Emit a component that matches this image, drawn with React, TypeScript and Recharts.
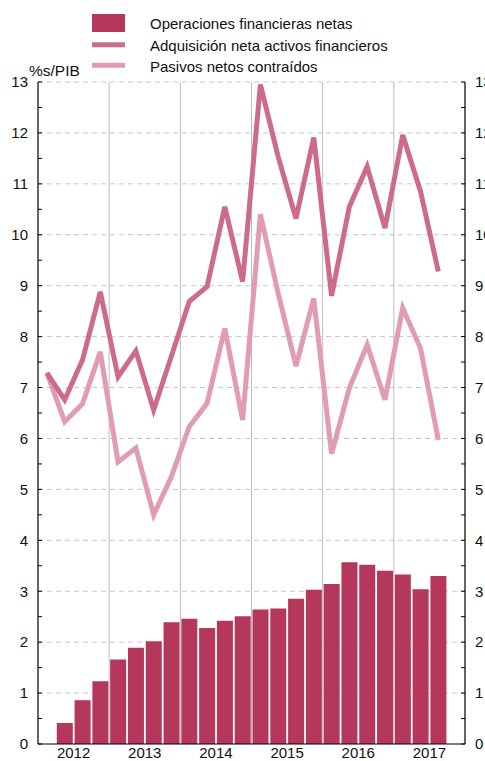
import React from 'react';
import { ComposedChart, Bar, Line, XAxis, YAxis, CartesianGrid } from 'recharts';

const quarters = [
  '2012T1', '2012T2', '2012T3', '2012T4',
  '2013T1', '2013T2', '2013T3', '2013T4',
  '2014T1', '2014T2', '2014T3', '2014T4',
  '2015T1', '2015T2', '2015T3', '2015T4',
  '2016T1', '2016T2', '2016T3', '2016T4',
  '2017T1', '2017T2', '2017T3', '2017T4',
];

const operaciones = [
  null, 0.41, 0.86, 1.23,
  1.66, 1.89, 2.02, 2.39,
  2.46, 2.28, 2.42, 2.51,
  2.64, 2.66, 2.85, 3.03,
  3.14, 3.57, 3.52, 3.40,
  3.33, 3.04, 3.30, null,
];

const adquisicion = [
  7.29, 6.76, 7.54, 8.88,
  7.21, 7.72, 6.56, 7.62,
  8.69, 8.98, 10.55, 9.08,
  12.95, 11.53, 10.32, 11.91,
  8.8, 10.55, 11.34, 10.13,
  11.96, 10.85, 9.28, null,
];

const pasivos = [
  7.29, 6.33, 6.68, 7.70,
  5.54, 5.81, 4.50, 5.25,
  6.23, 6.69, 8.16, 6.36,
  10.4, 8.85, 7.42, 8.75,
  5.7, 6.99, 7.84, 6.76,
  8.56, 7.77, 5.97, null,
];

const years = ['2012', '2013', '2014', '2015', '2016', '2017'];
const yLabels = [0, 1, 2, 3, 4, 5, 6, 7, 8, 9, 10, 11, 12, 13];

const seriesNames = {
  operaciones: 'Operaciones financieras netas',
  adquisicion: 'Adquisición neta activos financieros',
  pasivos: 'Pasivos netos contraídos',
};

const COLORS = {
  operaciones: '#b5375c',
  adquisicion: '#cc6b8b',
  pasivos: '#e19cb2',
};

const FONT = '"Liberation Sans", Arial, Helvetica, sans-serif';

const data = quarters.map((q, i) => ({
  q,
  pos: i + 0.5,
  operaciones: operaciones[i],
  adquisicion: adquisicion[i],
  pasivos: pasivos[i],
}));

const yTicks: number[] = [];
yLabels.forEach((v, i) => {
  yTicks.push(v);
  if (i < yLabels.length - 1) yTicks.push(v + 0.5);
});

const yearTicks = years.map((_, i) => i * 4 + 2);
const yearBounds = years.slice(1).map((_, i) => (i + 1) * 4);

const yFmt = (v: number) => (Number.isInteger(v) ? String(v) : '');
const xFmt = (v: number) => years[yearTicks.indexOf(v)] ?? '';

const tickStyle = { fontSize: 15, fontFamily: FONT, fill: '#111' };

const Legend = () => (
  <svg width={485} height={80} style={{ position: 'absolute', left: 0, top: 0 }}>
    <rect x={92} y={14} width={33} height={18} fill={COLORS.operaciones} />
    <line x1={92} x2={125} y1={44.7} y2={44.7} stroke={COLORS.adquisicion} strokeWidth={5} />
    <line x1={92} x2={125} y1={65.3} y2={65.3} stroke={COLORS.pasivos} strokeWidth={5} />
    <text x={150} y={29} fontSize={15} fontFamily={FONT} fill="#111">{seriesNames.operaciones}</text>
    <text x={150} y={50.5} fontSize={15} fontFamily={FONT} fill="#111">{seriesNames.adquisicion}</text>
    <text x={150} y={71.5} fontSize={15} fontFamily={FONT} fill="#111">{seriesNames.pasivos}</text>
    <text x={29} y={76} fontSize={15.5} fontFamily={FONT} fill="#111">%s/PIB</text>
  </svg>
);

export default function App() {
  return (
    <div style={{ position: 'absolute', left: 0, top: 0, width: 485, height: 761, background: '#fff' }}>
      <ComposedChart
        width={485}
        height={761}
        data={data}
        margin={{ top: 82, right: 0, bottom: 0, left: 0 }}
        barCategoryGap={1}
      >
        <CartesianGrid
          xAxisId="yr"
          yAxisId="left"
          vertical={false}
          horizontalValues={yLabels.slice(1)}
          strokeDasharray="5 4"
          stroke="#c8c8c8"
        />
        <CartesianGrid
          xAxisId="yr"
          yAxisId="left"
          horizontal={false}
          verticalValues={yearBounds}
          stroke="#bdbdbd"
        />
        <XAxis
          xAxisId="yr"
          dataKey="pos"
          type="number"
          domain={[0, 24]}
          ticks={yearTicks}
          allowDataOverflow
          height={17}
          tickSize={0}
          tickMargin={3}
          tickLine={false}
          axisLine={{ stroke: '#000', strokeWidth: 1.2 }}
          tick={tickStyle}
          tickFormatter={xFmt}
          interval={0}
        />
        <XAxis xAxisId="cat" dataKey="q" hide height={0} />
        <YAxis
          yAxisId="left"
          orientation="left"
          width={38}
          domain={[0, 13]}
          ticks={yTicks}
          interval={0}
          tickSize={-4}
          tickMargin={14}
          tickLine={{ stroke: '#000' }}
          axisLine={{ stroke: '#000', strokeWidth: 1.2 }}
          tick={tickStyle}
          tickFormatter={yFmt}
        />
        <YAxis
          yAxisId="right"
          orientation="right"
          dataKey="adquisicion"
          width={20}
          domain={[0, 13]}
          allowDataOverflow
          ticks={yTicks}
          interval={0}
          tickSize={-4}
          tickMargin={14}
          tickLine={{ stroke: '#000' }}
          axisLine={{ stroke: '#000', strokeWidth: 1.2 }}
          tick={tickStyle}
          tickFormatter={yFmt}
        />
        <Bar
          xAxisId="cat"
          yAxisId="left"
          dataKey="operaciones"
          name={seriesNames.operaciones}
          fill={COLORS.operaciones}
          isAnimationActive={false}
        />
        <Line
          xAxisId="cat"
          yAxisId="left"
          type="linear"
          dataKey="pasivos"
          name={seriesNames.pasivos}
          stroke={COLORS.pasivos}
          strokeWidth={5}
          strokeLinejoin="miter"
          dot={false}
          activeDot={false}
          isAnimationActive={false}
        />
        <Line
          xAxisId="cat"
          yAxisId="left"
          type="linear"
          dataKey="adquisicion"
          name={seriesNames.adquisicion}
          stroke={COLORS.adquisicion}
          strokeWidth={5}
          strokeLinejoin="miter"
          dot={false}
          activeDot={false}
          isAnimationActive={false}
        />
      </ComposedChart>
      <Legend />
    </div>
  );
}
